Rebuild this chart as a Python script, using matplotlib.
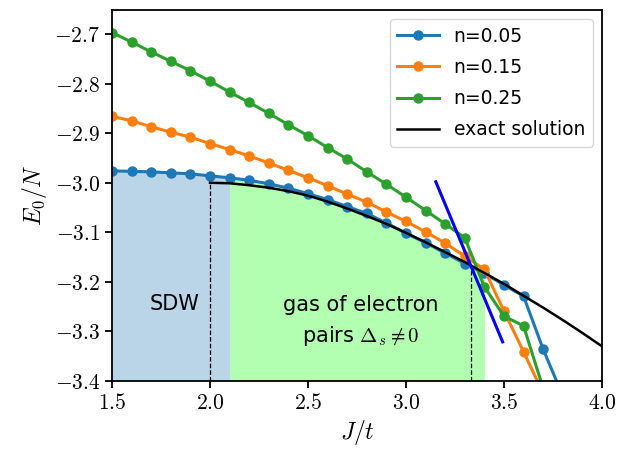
import numpy as np
import matplotlib
matplotlib.use("Agg")
import matplotlib.pyplot as plt

plt.rcParams['mathtext.fontset'] = 'cm'

# n-dependent ground state energy per site
J_blue = [1.5, 1.6, 1.7, 1.8, 1.9, 2.0, 2.1, 2.2, 2.3, 2.4, 2.5, 2.6,
          2.7, 2.8, 2.9, 3.0, 3.1, 3.2, 3.3, 3.4, 3.5, 3.6, 3.7, 3.8]
E_blue = [-2.976, -2.977, -2.978, -2.980, -2.982, -2.986, -2.990, -2.995,
          -3.002, -3.011, -3.022, -3.034, -3.048, -3.062, -3.081, -3.102,
          -3.121, -3.142, -3.163, -3.183, -3.206, -3.229, -3.336, -3.430]

J_orange = [1.5, 1.6, 1.7, 1.8, 1.9, 2.0, 2.1, 2.2, 2.3, 2.4, 2.5, 2.6,
            2.7, 2.8, 2.9, 3.0, 3.1, 3.2, 3.3, 3.4, 3.5, 3.6, 3.7]
E_orange = [-2.866, -2.875, -2.887, -2.898, -2.908, -2.921, -2.933, -2.946,
            -2.960, -2.975, -2.990, -3.006, -3.023, -3.039, -3.059, -3.078,
            -3.099, -3.122, -3.148, -3.175, -3.259, -3.341, -3.425]

J_green = [1.5, 1.6, 1.7, 1.8, 1.9, 2.0, 2.1, 2.2, 2.3, 2.4, 2.5, 2.6,
           2.7, 2.8, 2.9, 3.0, 3.1, 3.2, 3.3, 3.4, 3.5, 3.6, 3.7]
E_green = [-2.697, -2.716, -2.736, -2.755, -2.774, -2.795, -2.817, -2.838,
           -2.860, -2.883, -2.905, -2.929, -2.952, -2.978, -3.003, -3.029,
           -3.056, -3.083, -3.111, -3.210, -3.269, -3.289, -3.415]

# exact solution
J_exact = [2.0, 2.1, 2.2, 2.3, 2.4, 2.5, 2.6, 2.7, 2.8, 2.9, 3.0,
           3.1, 3.2, 3.3, 3.4, 3.5, 3.6, 3.7, 3.8, 3.9, 4.0]
E_exact = [-3.000, -3.001, -3.005, -3.010, -3.017, -3.026, -3.038, -3.052,
           -3.067, -3.083, -3.101, -3.120, -3.140, -3.160, -3.182, -3.204,
           -3.228, -3.252, -3.277, -3.303, -3.330]

# tangent line
J_tan = [3.152, 3.493]
E_tan = [-2.998, -3.321]

J_sdw = 2.0
J_c = 3.332
E_c = -3.165

fig = plt.figure(figsize=(6.35, 4.5), dpi=100)
ax = fig.add_axes([0.1764, 0.1533, 0.7716, 0.8245])

Jb = np.array(J_blue)
Eb = np.array(E_blue)
m1 = (Jb >= 1.5) & (Jb <= 2.1 + 1e-9)
ax.fill_between(Jb[m1], -3.4, Eb[m1], color='tab:blue', alpha=0.3, lw=0, zorder=0)
m2 = (Jb >= 2.1 - 1e-9) & (Jb <= 3.4 + 1e-9)
ax.fill_between(Jb[m2], -3.4, Eb[m2], color='lime', alpha=0.3, lw=0, zorder=0)

ax.plot([J_sdw, J_sdw], [-3.4, -3.0], 'k--', lw=0.9, zorder=1)
ax.plot([J_c, J_c], [-3.4, E_c], 'k--', lw=0.9, zorder=1)

ax.plot(J_blue, E_blue, 'o-', color='tab:blue', lw=2.2, ms=6.5, label='n=0.05')
ax.plot(J_orange, E_orange, 'o-', color='tab:orange', lw=2.2, ms=6.5, label='n=0.15')
ax.plot(J_green, E_green, 'o-', color='tab:green', lw=2.2, ms=6.5, label='n=0.25')
ax.plot(J_exact, E_exact, 'k-', lw=1.8, label='exact solution')
ax.plot(J_tan, E_tan, color='blue', lw=2.2)

ax.text(1.82, -3.245, 'SDW', fontsize=15, ha='center', va='center')
ax.text(2.77, -3.28, 'gas of electron\npairs $\\Delta_s \\neq 0$', fontsize=15,
        ha='center', va='center', linespacing=1.5)

ax.set_xlim(1.5, 4.0)
ax.set_ylim(-3.4, -2.6514)
xt = [1.5, 2.0, 2.5, 3.0, 3.5, 4.0]
yt = [-3.4, -3.3, -3.2, -3.1, -3.0, -2.9, -2.8, -2.7]
ax.set_xticks(xt)
ax.set_xticklabels([f'${v:.1f}$' for v in xt], fontsize=15.5)
ax.set_yticks(yt)
ax.set_yticklabels([f'${v:.1f}$' for v in yt], fontsize=15.5)
ax.tick_params(length=5, width=1.3)
ax.set_xlabel('$J/t$', fontsize=17)
ax.set_ylabel('$E_0/N$', fontsize=17)
for s in ax.spines.values():
    s.set_linewidth(1.3)

ax.legend(loc='upper right', fontsize=13.5, handlelength=2.2, labelspacing=0.65)

fig.savefig('out.png', dpi=100)
